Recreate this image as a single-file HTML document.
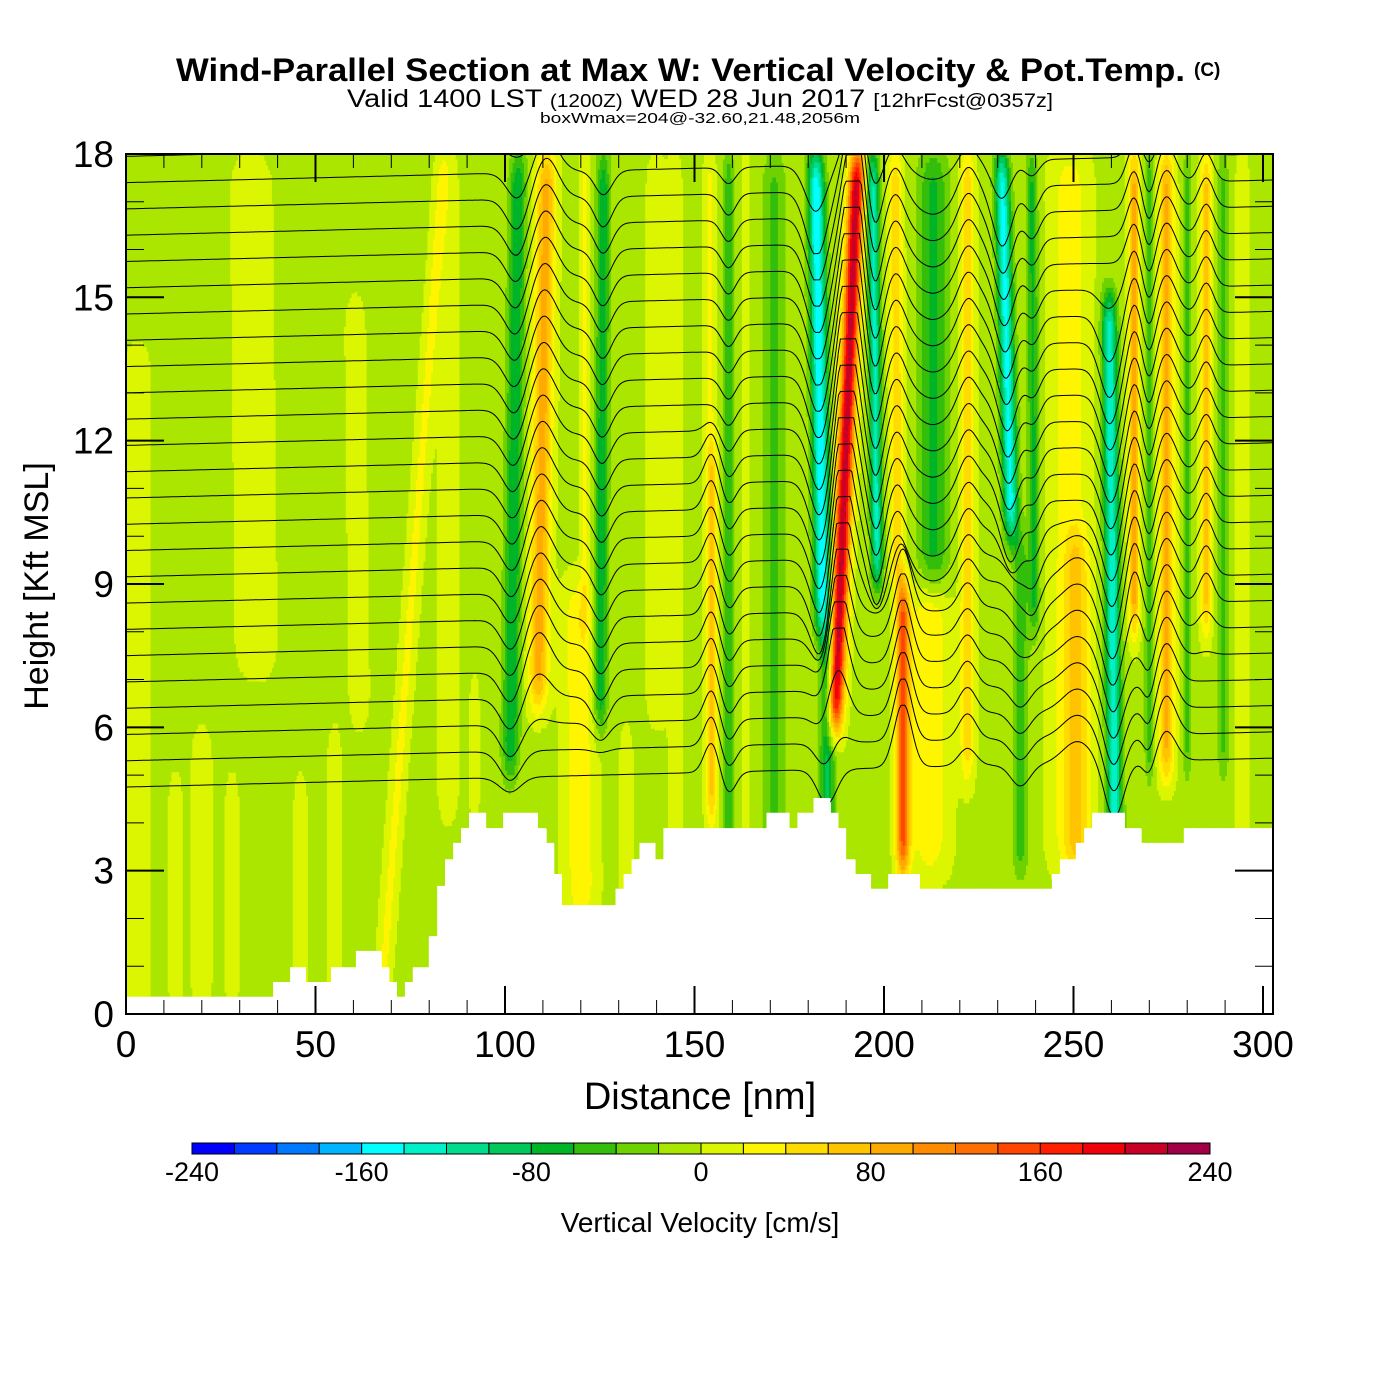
<!DOCTYPE html>
<html><head><meta charset="utf-8"><style>
body{margin:0;background:#fff;}
svg{display:block;font-family:"Liberation Sans",sans-serif;}
</style></head><body>
<svg id="chart" width="1400" height="1400" viewBox="0 0 1400 1400" xmlns="http://www.w3.org/2000/svg">
<rect x="0" y="0" width="1400" height="1400" fill="#fff"/>
<text x="176" y="81" font-size="32" font-weight="bold" textLength="1009" lengthAdjust="spacingAndGlyphs">Wind-Parallel Section at Max W: Vertical Velocity &amp; Pot.Temp.</text>
<text x="1194" y="76" font-size="19" font-weight="bold">(C)</text>
<text x="347" y="107" font-size="25" textLength="706" lengthAdjust="spacingAndGlyphs">Valid 1400 LST <tspan font-size="18">(1200Z)</tspan> WED 28 Jun 2017 <tspan font-size="19">[12hrFcst@0357z]</tspan></text>
<text x="540" y="123" font-size="15" textLength="320" lengthAdjust="spacingAndGlyphs">boxWmax=204@-32.60,21.48,2056m</text>
<g id="field"></g>
<g id="contours"></g>
<g id="terrain"></g>
<g id="axes"></g>
<text x="700" y="1109" text-anchor="middle" font-size="38">Distance [nm]</text>
<text transform="translate(48,586) rotate(-90)" text-anchor="middle" font-size="34">Height [Kft MSL]</text>
<g id="colorbar"></g>
<text x="700" y="1232" text-anchor="middle" font-size="28">Vertical Velocity [cm/s]</text>
</svg>
<script>
// ---- data ----
const bandXBottom = [3,35,20,55,62,70,101,108,120,121,125,145,154.5,154,159,163.5,171,185,185,185.5,199,204,205,213,212,222,236,236,240,249,251,261,266,270,274.5,280,285,289.5,294.5,13,28,46,85,92,140,132];
const bandXTop    = [3,33,20,55,60,84,103.5,111,118,121,126,145,154.5,154,159,163.5,171,182,185,193,197,203,205,213,212,222,231,236,239,249,251,259,266,270,274.5,280,285,289.5,294.5,13,28,46,85,92,140,132];
const bandWidth   = [4,6,3,2,3,2,2.2,2.5,4,1.2,1.8,2,1.5,1.5,1.5,1,3,2.2,2,2.1,1.6,1.8,1.8,4,5,1.8,2,2,1.5,5,3,2,1.5,1.2,2,1.2,1.5,1.5,1.5,2,2,2,3,1.5,3,2];
const bandAmp     = [12,12,12,12,12,30,-75,95,40,30,-70,12,70,30,-50,25,-40,-150,-80,220,-120,60,150,-60,40,60,-140,-50,-60,35,50,-130,90,-50,90,-40,70,-40,25,12,12,12,12,12,12,12];
const bandZBottom = [0,7,0,0,6,0,5,6.5,2,8,6,0,4,12,2,2,3,8,3,6,9,9,3,9,3,5,10,3,8,3,3,3,8,5,5,5,8,5,3,0,0,0,4,4,6,2];
const bandZTop    = [14,18,6,6,15,18,18,18,9,18,18,18,12,18,18,18,18,18,8,18,18,18,9,18,9,18,18,10,18,18,10,15,18,18,18,18,18,18,18,5,5,5,18,7,18,6];
const terrainX = [0,38.8,43.3,47.5,54.1,60.7,67.3,69.4,71.5,73.6,75.7,79.9,82.1,84.2,86.3,88.4,90.5,95.0,99.5,108.7,110.8,112.9,115.0,129.2,131.3,133.4,135.5,139.7,141.8,169.0,175.1,177.2,181.4,185.8,188.0,190.0,192.4,196.6,201.1,209.5,244.3,246.4,250.6,252.8,254.9,263.6,267.8,279.1];
const terrainH = [0.36,0.67,0.98,0.67,0.98,1.32,0.98,0.67,0.36,0.67,0.98,1.63,2.68,3.24,3.58,3.89,4.21,3.89,4.21,3.89,3.58,2.93,2.28,2.62,2.93,3.24,3.58,3.24,3.89,4.21,3.89,4.21,4.52,4.21,3.89,3.24,2.93,2.62,2.93,2.62,2.93,3.24,3.58,3.89,4.21,3.89,3.58,3.89];
const thetaBase = [4.75,5.3,5.85,6.4,6.95,7.5,8.05,8.6,9.15,9.7,10.25,10.8,11.35,11.9,12.45,13.0,13.55,14.1,14.65,15.2,15.75,16.3,16.85,17.4,17.95,18.5];
const cbColors = ['#0000ff','#003cff','#0078ff','#00b4ff','#00ffff','#00f0c8','#00dc8c','#00c85a','#00b428','#32be0a','#6ed200','#aae600','#dcf500','#fff500','#ffdc00','#ffc300','#ffaa00','#ff8c00','#ff6e00','#ff4600','#ff1e00','#f0000a','#c80028','#a00046'];
const cbTicks = [-240,-160,-80,0,80,160,240];
const xTicks = [0,50,100,150,200,250,300];
const yTicks = [0,3,6,9,12,15,18];
const background = -5;

// ---- scales ----
const NS='http://www.w3.org/2000/svg';
const X0=126,X1=1273,Y0=1014,Y1=154;
const xs = nm => X0 + nm*3.79;
const ys = k => Y0 - k*47.78;
const XMAX=(X1-X0)/3.79;
function mk(tag,attrs,parent){const e=document.createElementNS(NS,tag);for(const k in attrs)e.setAttribute(k,attrs[k]);parent.appendChild(e);return e;}
function ss(a,b,v){const t=Math.min(1,Math.max(0,(v-a)/(b-a)));return t*t*(3-2*t);}
function terrainAt(nm){let h=terrainH[0];for(let i=0;i<terrainX.length;i++){if(nm>=terrainX[i])h=terrainH[i];}return h;}
function bandG(i,x,z,wmul){const c=bandXBottom[i]+(bandXTop[i]-bandXBottom[i])*(z-3)/15;const d=(x-c)/(bandWidth[i]*wmul);
  return Math.exp(-d*d)*ss(bandZBottom[i]-0.8,bandZBottom[i]+0.8,z)*(1-ss(bandZTop[i]-0.8,bandZTop[i]+0.8,z));}
function wAt(x,z){let w=background;for(let i=0;i<bandAmp.length;i++)w+=bandAmp[i]*bandG(i,x,z,1);return w;}
function bin(w){return Math.max(0,Math.min(23,Math.floor((w+240)/20)));}

// ---- field ----
const field=document.getElementById('field');
const dx=0.5,dz=0.1;
for(let x=0;x<XMAX;x+=dx){
  const th=terrainAt(x+dx/2);
  let runStart=th,runBin=bin(wAt(x+dx/2,th+dz/2));
  for(let z=th;z<18+1e-6;z+=dz){
    const b=bin(wAt(x+dx/2,z+dz/2));
    if(b!==runBin){
      const r=mk('rect',{x:xs(x).toFixed(1),y:ys(z).toFixed(1),width:(dx*3.79+0.6).toFixed(2),height:(ys(runStart)-ys(z)+0.6).toFixed(1),fill:cbColors[runBin]},field);
      
      
      runStart=z;runBin=b;
    }
  }
  const r=mk('rect',{x:xs(x).toFixed(1),y:ys(18).toFixed(1),width:Math.min(dx*3.79+0.6,X1-xs(x)).toFixed(2),height:(ys(runStart)-ys(18)).toFixed(1),fill:cbColors[runBin]},field);
  
  
}

// ---- theta contours ----
const cg=document.getElementById('contours');
const cp=mk('clipPath',{id:'plotclip'},cg);
mk('rect',{x:X0,y:Y1,width:X1-X0,height:Y0-Y1},cp);
thetaBase.forEach((z0,k)=>{
  let pts=[];
  for(let x=0;x<=XMAX;x+=0.5){
    let z=z0+x*0.002;let d=0;
    for(let i=0;i<bandAmp.length;i++){if(Math.abs(bandAmp[i])>=50)d+=bandAmp[i]*bandG(i,x,z,1.8)*0.009;}
    d=Math.max(-1.3,Math.min(1.3,d));
    let zz=z+d;
    pts.push(xs(x).toFixed(1)+','+ys(zz).toFixed(1));
  }
  const p=mk('polyline',{points:pts.join(' '),fill:'none',stroke:'#000','stroke-width':1,'clip-path':'url(#plotclip)'},cg);
  
  
});

// ---- terrain ----
const tg=document.getElementById('terrain');
let tp=[xs(0)+','+ys(0)];
for(let i=0;i<terrainX.length;i++){const xa=xs(terrainX[i]),xb=i+1<terrainX.length?xs(terrainX[i+1]):X1;
  tp.push(xa.toFixed(1)+','+ys(terrainH[i]).toFixed(1));tp.push(xb.toFixed(1)+','+ys(terrainH[i]).toFixed(1));}
tp.push(X1+','+ys(0));
const tpoly=mk('polygon',{points:tp.join(' '),fill:'#fff'},tg);



// ---- axes ----
const ax=document.getElementById('axes');
const frame=mk('rect',{x:X0,y:Y1,width:X1-X0,height:Y0-Y1,fill:'none',stroke:'#000','stroke-width':2},ax);


for(let v=0;v<=300;v+=10){const major=v%50===0;const L=major?28:14;
  mk('line',{x1:xs(v),x2:xs(v),y1:Y0,y2:Y0-L,stroke:'#000','stroke-width':major?2:1},ax);
  mk('line',{x1:xs(v),x2:xs(v),y1:Y1,y2:Y1+L,stroke:'#000','stroke-width':major?2:1},ax);}
xTicks.forEach(v=>{const t=mk('text',{x:xs(v),y:1057,'text-anchor':'middle','font-size':37},ax);t.textContent=v;
  
  });
for(let v=0;v<=18;v+=1){const major=v%3===0;const L=major?38:18;
  mk('line',{x1:X0,x2:X0+L,y1:ys(v),y2:ys(v),stroke:'#000','stroke-width':major?2:1},ax);
  mk('line',{x1:X1,x2:X1-L,y1:ys(v),y2:ys(v),stroke:'#000','stroke-width':major?2:1},ax);}
yTicks.forEach(v=>{const t=mk('text',{x:114,y:ys(v)+13,'text-anchor':'end','font-size':37},ax);t.textContent=v;
  
  });

// ---- colorbar ----
const cb=document.getElementById('colorbar');
const cbx=v=>192+(v+240)/480*1018;
cbColors.forEach((c,i)=>{const r=mk('rect',{x:cbx(-240+i*20),y:1143,width:1018/24,height:11,fill:c,stroke:'#000','stroke-width':1},cb);
  
  });
cbTicks.forEach(v=>{const t=mk('text',{x:cbx(v),y:1181,'text-anchor':'middle','font-size':27},cb);t.textContent=v;
  
  });
</script>
</body></html>
